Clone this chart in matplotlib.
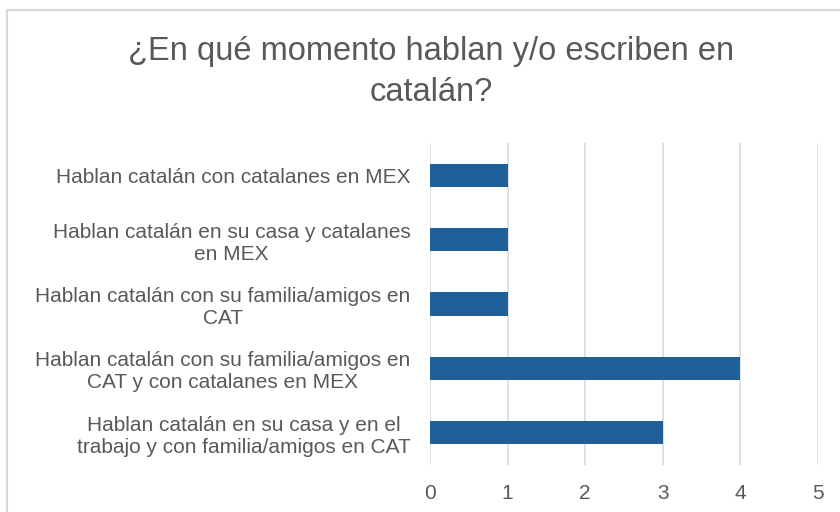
import matplotlib.pyplot as plt
from matplotlib.lines import Line2D

plt.rcParams['font.family'] = ['Liberation Sans', 'DejaVu Sans']

# datos (de abajo hacia arriba)
categorias = [
    "Hablan catalán en su casa y en el\ntrabajo y con familia/amigos en CAT",
    "Hablan catalán con su familia/amigos en\nCAT y con catalanes en MEX",
    "Hablan catalán con su familia/amigos en\nCAT",
    "Hablan catalán en su casa y catalanes\nen MEX",
    "Hablan catalán con catalanes en MEX",
]
valores = [3, 4, 1, 1, 1]
ticks_x = [0, 1, 2, 3, 4, 5]

titulo = "¿En qué momento hablan y/o escriben en\ncatalán?"

W, H = 840, 512
fig = plt.figure(figsize=(8.4, 5.12), dpi=100)
ax = fig.add_axes([430 / W, 1 - 465 / H, (818 - 430) / W, (465 - 143) / H])

# marco del gráfico (solo arriba e izquierda visibles)
fig.lines.append(Line2D([7 / W, 1], [1 - 10 / H, 1 - 10 / H], transform=fig.transFigure,
                        color="#d9d9d9", linewidth=1.5))
fig.lines.append(Line2D([7 / W, 7 / W], [0, 1 - 10 / H], transform=fig.transFigure,
                        color="#d9d9d9", linewidth=1.5))

y = range(len(categorias))
ax.barh(y, valores, height=0.36, color="#1f6098", zorder=3)

ax.set_xlim(0, 5)
ax.set_ylim(-0.5, len(categorias) - 0.5)
ax.set_xticks(ticks_x)
ax.set_yticks(list(y))
ax.set_yticklabels(categorias, multialignment="center")
ax.grid(axis="x", color="#d9d9d9", linewidth=1.2, zorder=0)
for s in ax.spines.values():
    s.set_visible(False)
ax.tick_params(axis="both", length=0, colors="#595959")
ax.tick_params(axis="y", labelsize=15, pad=14)
ax.tick_params(axis="x", labelsize=15, pad=14)

fig.text(431 / W, 1 - 72 / H, titulo, ha="center", va="center",
         fontsize=23.5, color="#595959", linespacing=1.38)

fig.savefig("out.png", dpi=100)
